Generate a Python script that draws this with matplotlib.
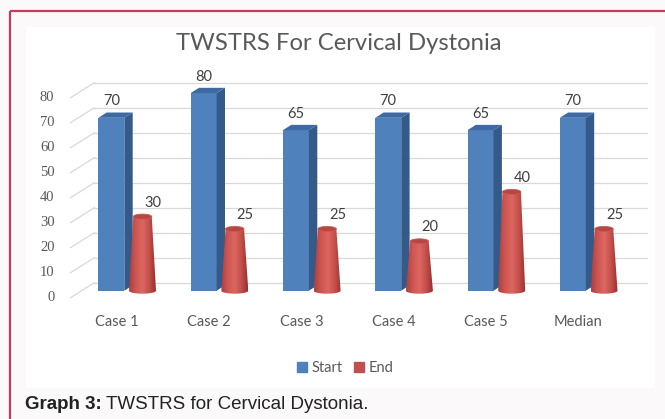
import matplotlib.pyplot as plt
import numpy as np
from matplotlib.colors import LinearSegmentedColormap
from matplotlib.patches import Ellipse, Patch, Polygon, Rectangle

cases = ["Case 1", "Case 2", "Case 3", "Case 4", "Case 5", "Median"]
start_scores = [70, 80, 65, 70, 65, 70]
end_scores = [30, 25, 25, 20, 40, 25]
y_ticks = [0, 10, 20, 30, 40, 50, 60, 70, 80]

W, H = 665, 419
PX = 92.3   # pixels per category
PY = 2.47   # pixels per score unit
X0 = 126.9  # pixel x of first category centre
Y0 = 290.7  # pixel y of score 0 (front)

BLUE = "#4f81bd"
BLUE_SIDE = "#345a8a"
BLUE_TOP = "#3e6aa3"
RED = "#c0504d"
GRAY = "#595959"

fig = plt.figure(figsize=(W / 100, H / 100), dpi=100, facecolor="#fbf9fa")

# page frame, white chart panel and caption
bg = fig.add_axes([0, 0, 1, 1])
bg.set_xlim(0, W)
bg.set_ylim(H, 0)
bg.axis("off")
bg.add_patch(Rectangle((9.5, 11), 700, 500, fill=False, ec="#c03c60", lw=1.6))
bg.add_patch(Rectangle((25.5, 27), 629, 361, fc="white", ec="none"))
cap1 = bg.text(25, 404, "Graph 3:", fontsize=13.5, weight="bold", family="Liberation Sans",
               color="#222222", va="center")
fig.canvas.draw()
bb = cap1.get_window_extent()
bg.text(25 + bb.width + 4, 404, "TWSTRS for Cervical Dystonia.", fontsize=13.5,
        family="Liberation Sans", color="#222222", va="center")

# main drawing axes in category / score units
left, right, top, bottom = 40, 660, 60, 310
ax = fig.add_axes([left / W, 1 - bottom / H, (right - left) / W, (bottom - top) / H])
ax.set_xlim((left - X0) / PX, (right - X0) / PX)
ax.set_ylim((Y0 - bottom) / PY, (Y0 - top) / PY)
ax.axis("off")

# back wall gridlines and side wall diagonals
x_back0 = (94.3 - X0) / PX
x_back1 = (647 - X0) / PX
x_front = (70.5 - X0) / PX
for v in y_ticks:
    yb = v * 2.5 / PY + 8 / PY
    yf = yb - 15 / PY
    ax.plot([x_back0, x_back1], [yb, yb], color="#d9d9d9", lw=0.9, zorder=1)
    ax.plot([x_front, x_back0], [yf, yb], color="#d9d9d9", lw=0.9, zorder=1)
    ax.text((54.5 - X0) / PX, yf, str(v), ha="right", va="center", fontsize=10.5,
            family="Liberation Serif", color=GRAY)

x = np.arange(len(cases))
off = 15.6 / PX
bw = 26 / PX
dx = 8.4 / PX
dy = 5.3 / PY

# blue "Start" bars with side and top faces
ax.bar(x - off, start_scores, width=bw, color=BLUE, zorder=3)
for xi, v in zip(x - off, start_scores):
    xl, xr = xi - bw / 2, xi + bw / 2
    ax.add_patch(Polygon([(xr, 0), (xr + dx, dy), (xr + dx, v + dy), (xr, v)],
                         fc=BLUE_SIDE, ec="none", zorder=3))
    ax.add_patch(Polygon([(xl, v), (xl + dx, v + dy), (xr + dx, v + dy), (xr, v)],
                         fc=BLUE_TOP, ec="none", zorder=3))
    ax.text(xi, v + 6.7, f"{v}", ha="center", va="center", fontsize=10.5,
            family="Lato", color="#404040")

# red "End" cones
cone_cmap = LinearSegmentedColormap.from_list(
    "cone", ["#a8403d", "#cf5652", "#dd6661", "#c44f4b", "#952f2c"])
grad = np.linspace(0, 1, 256).reshape(1, -1)
b_w = 27 / PX
t_w = 18.5 / PX
b_h = 6 / PY
t_h = 5 / PY
for xi, v in zip(x + off, end_scores):
    t = np.linspace(np.pi, 2 * np.pi, 40)
    arc = np.column_stack([xi + b_w / 2 * np.cos(t), b_h / 2 * np.sin(t)])
    pts = np.vstack([[(xi - t_w / 2, v)], arc, [(xi + t_w / 2, v)]])
    body = Polygon(pts, fc="none", ec="none", zorder=4)
    ax.add_patch(body)
    im = ax.imshow(grad, cmap=cone_cmap, aspect="auto", zorder=4,
                   extent=[xi - b_w / 2, xi + b_w / 2, -b_h, v])
    im.set_clip_path(body)
    ax.add_patch(Ellipse((xi, v), t_w, t_h, fc="#b84643", ec="#c95a56", lw=0.6, zorder=5))
    ax.text(xi + 10.5 / PX, v + 5.6, f"{v}", ha="center", va="center", fontsize=10.5,
            family="Lato", color="#404040")

ax.set_xlim((left - X0) / PX, (right - X0) / PX)
ax.set_ylim((Y0 - bottom) / PY, (Y0 - top) / PY)

# category labels
for xi, name in zip(x, cases):
    ax.text(xi - 10 / PX, (Y0 - 322) / PY, name, ha="center", va="center",
            fontsize=10.5, family="Lato", color=GRAY)

fig.text(339 / W, 1 - 44 / H, "TWSTRS For Cervical Dystonia", ha="center", va="center",
         fontsize=17.2, family="Lato", color=GRAY)

handles = [Patch(color=BLUE, label="Start"), Patch(color=RED, label="End")]
fig.legend(handles=handles, loc="center", bbox_to_anchor=(345 / W, 1 - 368 / H), ncol=2,
           frameon=False, handlelength=0.7, handleheight=0.7, handletextpad=0.3,
           columnspacing=0.8, prop={"family": "Lato", "size": 10.5}, labelcolor=GRAY)

fig.savefig("out.png", dpi=100, facecolor=fig.get_facecolor())
